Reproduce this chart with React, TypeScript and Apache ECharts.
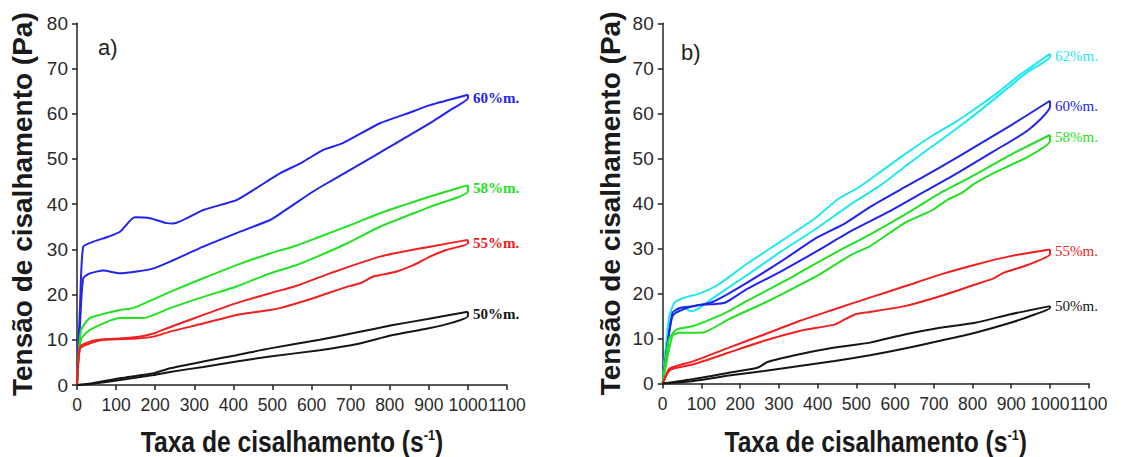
import React, { useEffect, useRef } from "react";
import * as echarts from "echarts";

// ---------- Data (shear rate s^-1, shear stress Pa) ----------
// Panel a)
const a60Upper = [[0,0],[8,18],[16,30.6],[42,31.7],[80,32.8],[110,33.9],[148,37.1],[187,36.9],[229,35.8],[246,35.7],[323,38.7],[408,40.9],[460,43.6],[519,46.8],[575,49.2],[630,52.0],[680,53.5],[775,57.9],[840,59.9],[903,61.9],[1000,64.2]];
const a60Lower = [[0,0],[8,14],[16,23.6],[33,24.7],[67,25.3],[110,24.7],[153,25.1],[196,25.8],[238,27.3],[323,30.6],[408,33.6],[494,36.5],[530,38.5],[604,42.8],[647,45.0],[775,51.4],[903,57.9],[962,61.2],[1000,63.4]];
const a58Upper = [[0,0],[10,12],[33,14.8],[110,16.6],[143,17.0],[238,20.6],[323,23.6],[408,26.5],[494,29.1],[560,30.8],[621,32.8],[700,35.4],[775,38.0],[840,39.9],[903,41.7],[1000,44.2]];
const a58Lower = [[0,0],[10,10],[33,12.2],[110,14.8],[170,14.8],[238,17.0],[323,19.5],[408,21.8],[494,24.7],[560,26.5],[604,28.0],[690,31.3],[775,35.0],[903,39.4],[1000,42.8]];
const a55Upper = [[0,0],[8,8.5],[33,9.6],[67,10.1],[110,10.3],[153,10.6],[196,11.4],[229,12.5],[263,13.6],[323,15.5],[408,18.1],[494,20.3],[560,21.9],[647,24.7],[775,28.4],[903,30.6],[1000,32.1]];
const a55Lower = [[0,0],[8,8.1],[33,9.2],[67,10.0],[153,10.3],[196,10.7],[238,11.8],[323,13.6],[408,15.5],[494,16.6],[519,17.0],[604,19.2],[690,21.7],[724,22.5],[758,24.0],[775,24.3],[818,25.1],[860,26.5],[903,28.4],[946,29.9],[1000,31.3]];
const a50Upper = [[0,0],[40,0.4],[110,1.5],[196,2.6],[238,3.7],[323,5.2],[408,6.6],[494,8.1],[621,10.0],[714,11.6],[805,13.2],[897,14.6],[1000,16.2]];
const a50Lower = [[0,0],[40,0.3],[110,1.1],[196,2.2],[238,2.9],[323,4.0],[408,5.2],[494,6.3],[621,7.7],[714,9.0],[805,11.0],[897,12.5],[960,13.8],[1000,15.2]];

// Panel b)
const b62Upper = [[0,0],[16,14.5],[30,17.9],[53,19.0],[98,20.1],[144,22.0],[216,26.5],[307,31.7],[398,37.0],[453,41.0],[507,43.6],[570,47.5],[635,51.5],[699,55.2],[762,58.4],[828,62.3],[871,65.0],[914,68.0],[1000,73.2]];
const b62Lower = [[0,0],[16,13.1],[35,16.1],[53,17.0],[71,16.1],[89,16.5],[125,18.7],[216,24.0],[307,29.4],[398,34.5],[489,40.0],[562,44.0],[635,48.8],[698,52.8],[762,56.8],[825,61.0],[889,65.5],[944,69.3],[1000,72.6]];
const b60Upper = [[0,0],[25,15.7],[44,16.8],[80,17.2],[125,18.0],[162,19.6],[216,22.3],[307,27.2],[398,32.4],[471,35.6],[535,39.2],[625,43.6],[716,48.0],[807,52.6],[898,57.3],[1000,62.8]];
const b60Lower = [[0,0],[25,15.0],[53,16.5],[89,17.4],[125,17.6],[162,18.0],[216,20.9],[307,25.0],[398,29.4],[489,34.0],[580,38.0],[671,42.4],[762,46.8],[853,51.5],[944,56.3],[1000,61.5]];
const b58Upper = [[0,0],[16,9.8],[35,12.0],[80,12.8],[125,14.3],[171,16.1],[216,18.3],[307,22.4],[398,26.8],[453,29.4],[535,33.1],[625,37.5],[716,42.3],[807,46.4],[898,50.8],[1000,55.2]];
const b58Lower = [[0,0],[25,10.6],[44,11.3],[80,11.3],[107,11.4],[171,14.3],[262,17.9],[307,19.8],[398,23.9],[489,28.7],[535,30.5],[625,35.7],[671,37.5],[698,38.6],[735,40.8],[771,42.3],[807,44.5],[853,46.7],[944,50.4],[1000,53.8]];
const b55Upper = [[0,0],[16,3.2],[35,3.9],[80,5.0],[171,8.0],[262,10.9],[353,13.9],[444,16.5],[535,19.1],[625,21.6],[716,24.2],[807,26.4],[898,28.3],[1000,29.8]];
const b55Lower = [[0,0],[16,2.8],[35,3.5],[80,4.3],[171,6.9],[262,9.5],[353,11.7],[444,13.1],[471,14.3],[498,15.4],[535,15.9],[625,17.2],[716,19.4],[807,22.0],[853,23.3],[880,24.6],[944,26.4],[1000,28.7]];
const b50Upper = [[0,0],[80,1.0],[171,2.4],[244,3.5],[271,4.8],[353,6.5],[444,8.0],[535,9.1],[625,10.9],[716,12.4],[807,13.5],[898,15.4],[1000,17.2]];
const b50Lower = [[0,0],[80,0.6],[171,1.8],[262,2.8],[353,3.9],[444,5.0],[535,6.3],[625,7.8],[716,9.5],[807,11.3],[898,13.5],[962,15.4],[1000,16.8]];

const xTicks = { min: 0, max: 1100, interval: 100 };
const yTicks = { min: 0, max: 80, interval: 10 };

const panelLabels = ["a)", "b)"];
const yTitle = "Tensão de cisalhamento (Pa)";
const xTitleMain = "Taxa de cisalhamento (s";
const xTitleSup = "-1";

const BLUE = "#2323ee";
const GREEN = "#22e022";
const RED = "#f02020";
const BLACK = "#151515";
const CYAN = "#1ee6f2";

type Loop = { name: string; color: string; upper: number[][]; lower: number[][]; dy: number };

const loopsA: Loop[] = [
  { name: "60%m.", color: BLUE, upper: a60Upper, lower: a60Lower, dy: 3 },
  { name: "58%m.", color: GREEN, upper: a58Upper, lower: a58Lower, dy: 3 },
  { name: "55%m.", color: RED, upper: a55Upper, lower: a55Lower, dy: 3 },
  { name: "50%m.", color: BLACK, upper: a50Upper, lower: a50Lower, dy: 2 },
];
const loopsB: Loop[] = [
  { name: "62%m.", color: CYAN, upper: b62Upper, lower: b62Lower, dy: 2 },
  { name: "60%m.", color: BLUE, upper: b60Upper, lower: b60Lower, dy: 5 },
  { name: "58%m.", color: GREEN, upper: b58Upper, lower: b58Lower, dy: 2 },
  { name: "55%m.", color: RED, upper: b55Upper, lower: b55Lower, dy: 2 },
  { name: "50%m.", color: BLACK, upper: b50Upper, lower: b50Lower, dy: 0 },
];

const SANS = "'Liberation Sans', Arial, sans-serif";
const SERIF = "'Liberation Serif', 'Times New Roman', serif";

const GRID_A = { left: 77, top: 23.3, width: 430, height: 361.7 };
const GRID_B = { left: 662.7, top: 23.3, width: 426, height: 360.3 };

function buildSeries(loops: Loop[], idx: number, bold: boolean) {
  const out: any[] = [];
  loops.forEach((l) => {
    const last = l.upper[l.upper.length - 1];
    out.push({
      type: "line",
      xAxisIndex: idx,
      yAxisIndex: idx,
      data: [...l.lower, last],
      showSymbol: false,
      smooth: 0.2,
      lineStyle: { color: l.color, width: 2 },
      silent: true,
    });
    out.push({
      type: "line",
      xAxisIndex: idx,
      yAxisIndex: idx,
      data: l.upper,
      showSymbol: false,
      smooth: 0.2,
      lineStyle: { color: l.color, width: 2 },
      silent: true,
      endLabel: {
        show: true,
        formatter: l.name,
        color: l.color,
        fontFamily: SERIF,
        fontWeight: bold ? "bold" : "normal",
        fontSize: 15,
        distance: 5,
        offset: [0, l.dy],
      },
    });
  });
  return out;
}

function xAxis(idx: number) {
  return {
    type: "value",
    gridIndex: idx,
    ...xTicks,
    axisLine: { lineStyle: { color: "#222", width: 1.5 } },
    axisTick: { length: 5, lineStyle: { color: "#222", width: 1.5 } },
    axisLabel: {
      fontFamily: SANS, fontSize: 17.5, color: "#2a2a2a", margin: 11,
      hideOverlap: false,
      formatter: (v: number) => String(v),
    },
    splitLine: { show: false },
  };
}

function yAxis(idx: number, gap: number) {
  return {
    type: "value",
    gridIndex: idx,
    ...yTicks,
    name: yTitle,
    nameLocation: "middle",
    nameGap: gap,
    nameTextStyle: { fontFamily: SANS, fontWeight: "bold", fontSize: 28, color: "#1a1a1a" },
    axisLine: { show: true, lineStyle: { color: "#222", width: 1.5 } },
    axisTick: { show: true, length: 5, lineStyle: { color: "#222", width: 1.5 } },
    axisLabel: { fontFamily: SANS, fontSize: 19, color: "#2a2a2a", margin: 9 },
    splitLine: { show: false },
  };
}

function xTitle(cx: number) {
  return {
    type: "text",
    x: cx,
    y: 442,
    scaleX: 0.85,
    silent: true,
    style: {
      text: `{a|${xTitleMain}}{s|${xTitleSup}}{a|)}`,
      textAlign: "center",
      textVerticalAlign: "middle",
      rich: {
        a: { fontFamily: SANS, fontWeight: "bold", fontSize: 29, fill: "#1a1a1a", color: "#1a1a1a" },
        s: { fontFamily: SANS, fontWeight: "bold", fontSize: 15, fill: "#1a1a1a", color: "#1a1a1a", verticalAlign: "top", padding: [0, 0, 14, 0] },
      },
    },
  };
}

export default function App() {
  const ref = useRef<HTMLDivElement>(null);
  useEffect(() => {
    document.body.style.margin = "0";
    const chart = echarts.init(ref.current!, null, { renderer: "svg" });
    chart.setOption({
      animation: false,
      backgroundColor: "#ffffff",
      title: [
        { text: panelLabels[0], left: 93, top: 31, textStyle: { fontFamily: SANS, fontWeight: "normal", fontSize: 22, color: "#222" } },
        { text: panelLabels[1], left: 676, top: 36, textStyle: { fontFamily: SANS, fontWeight: "normal", fontSize: 22, color: "#222" } },
      ],
      grid: [GRID_A, GRID_B],
      xAxis: [xAxis(0), xAxis(1)],
      yAxis: [yAxis(0, 41), yAxis(1, 38)],
      series: [...buildSeries(loopsA, 0, true), ...buildSeries(loopsB, 1, false)],
      graphic: [
        xTitle(GRID_A.left + GRID_A.width / 2),
        xTitle(GRID_B.left + GRID_B.width / 2),
      ],
    });
    return () => chart.dispose();
  }, []);
  return <div ref={ref} style={{ width: 1122, height: 457 }} />;
}
